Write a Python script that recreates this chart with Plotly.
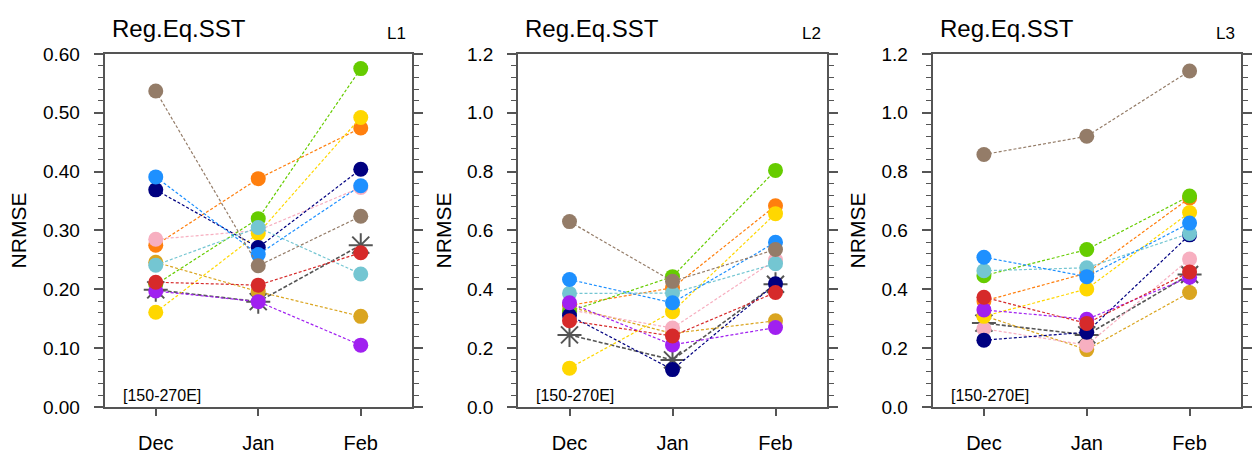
import plotly.graph_objects as go

months = ["Dec", "Jan", "Feb"]
panel_labels = ["L1", "L2", "L3"]
panel_title = "Reg.Eq.SST"
region_label = "[150-270E]"

series_names = ["MME", "goldenrod", "orange", "pink", "gold", "green", "navy",
                "turquoise", "dodger", "purple", "red", "brown"]
series_colors = {
    "MME": "#7f7f7f", "goldenrod": "#DAA520", "orange": "#FF7F0E", "pink": "#F7AFC0",
    "gold": "#FFD700", "green": "#66CC00", "navy": "#000080", "turquoise": "#74C6D2",
    "dodger": "#1E90FF", "purple": "#A020F0", "red": "#D62A2A", "brown": "#947C68",
}

L1 = {
    "brown": [0.537, 0.240, 0.324], "dodger": [0.391, 0.259, 0.376],
    "navy": [0.369, 0.271, 0.404], "pink": [0.285, 0.300, 0.373],
    "orange": [0.275, 0.388, 0.474], "goldenrod": [0.246, 0.196, 0.154],
    "turquoise": [0.241, 0.305, 0.226], "green": [0.208, 0.320, 0.575],
    "red": [0.212, 0.207, 0.262], "purple": [0.197, 0.179, 0.105],
    "gold": [0.161, 0.295, 0.492], "MME": [0.199, 0.179, 0.275],
}
L2 = {
    "brown": [0.630, 0.427, 0.535], "dodger": [0.433, 0.354, 0.560],
    "navy": [0.311, 0.127, 0.419], "pink": [0.330, 0.268, 0.500],
    "orange": [0.345, 0.405, 0.684], "goldenrod": [0.340, 0.250, 0.293],
    "turquoise": [0.386, 0.387, 0.487], "green": [0.325, 0.443, 0.804],
    "red": [0.293, 0.241, 0.389], "purple": [0.354, 0.211, 0.270],
    "gold": [0.132, 0.324, 0.657], "MME": [0.245, 0.160, 0.417],
}
L3 = {
    "brown": [0.858, 0.920, 1.142], "dodger": [0.509, 0.443, 0.625],
    "navy": [0.227, 0.254, 0.585], "pink": [0.266, 0.210, 0.503],
    "orange": [0.360, 0.455, 0.710], "goldenrod": [0.310, 0.195, 0.389],
    "turquoise": [0.463, 0.473, 0.590], "green": [0.446, 0.535, 0.717],
    "red": [0.373, 0.284, 0.459], "purple": [0.330, 0.298, 0.441],
    "gold": [0.308, 0.401, 0.661], "MME": [0.285, 0.245, 0.450],
}
panels = [L1, L2, L3]

y_ranges = [[0, 0.6], [0, 1.2], [0, 1.2]]
y_dticks = [0.1, 0.2, 0.2]
y_minor = [0.02, 0.04, 0.04]
y_formats = [".2f", ".1f", ".1f"]

W, H = 1260, 459
x_dom_px = [(104.5, 412), (518, 827), (932.5, 1241)]
y_top_px, y_bot_px = 46, 416
ytitle_x_px = [18, 443, 857]

FONT = "Liberation Sans, Arial, Helvetica, sans-serif"
AX = "#555555"

fig = go.Figure()
annotations = []
layout = {}
for i, data in enumerate(panels):
    k = "" if i == 0 else str(i + 1)
    xref, yref = "x" + k, "y" + k
    for name in series_names:
        c = series_colors[name]
        if name == "MME":
            fig.add_trace(go.Scatter(
                x=months, y=data[name], xaxis=xref, yaxis=yref, mode="lines+markers",
                line=dict(color="#555555", width=1.6, dash="4px,2px"),
                marker=dict(symbol="asterisk-open", size=20,
                            line=dict(color=c, width=2)),
                showlegend=False, cliponaxis=False))
        else:
            fig.add_trace(go.Scatter(
                x=months, y=data[name], xaxis=xref, yaxis=yref, mode="lines+markers",
                line=dict(color=c, width=1.2, dash="3px,2px"),
                marker=dict(symbol="circle", size=15, color=c, line=dict(width=0)),
                showlegend=False, cliponaxis=False))
    x0, x1 = x_dom_px[i]
    layout["xaxis" + k] = dict(
        domain=[x0 / W, x1 / W], anchor=yref, type="category",
        categoryorder="array", categoryarray=months, range=[-0.5, 2.5],
        showline=True, linecolor=AX, linewidth=1.5, mirror=True,
        ticks="outside", ticklen=7, tickwidth=1.5, tickcolor=AX,
        showgrid=False, zeroline=False,
        tickfont=dict(family=FONT, size=20, color="black"),
        ticklabelstandoff=10,
    )
    layout["yaxis" + k] = dict(
        domain=[1 - y_bot_px / H, 1 - y_top_px / H], anchor=xref,
        range=y_ranges[i], dtick=y_dticks[i], tick0=0, tickformat=y_formats[i],
        showline=True, linecolor=AX, linewidth=1.5, mirror="ticks",
        ticks="outside", ticklen=9, tickwidth=1.5, tickcolor=AX,
        minor=dict(dtick=y_minor[i], tick0=0, ticks="outside", ticklen=5,
                   tickwidth=1, tickcolor=AX, showgrid=False),
        showgrid=False, zeroline=False,
        tickfont=dict(family=FONT, size=19, color="black"),
        ticklabelstandoff=10,
    )
    annotations.append(dict(
        text=panel_title, xref="paper", yref="paper", x=(x0 + 5) / W, y=1 - 36 / H,
        xanchor="left", yanchor="bottom", showarrow=False,
        font=dict(family=FONT, size=24, color="black")))
    annotations.append(dict(
        text=panel_labels[i], xref="paper", yref="paper", x=(x1 - 4) / W, y=1 - 37 / H,
        xanchor="right", yanchor="bottom", showarrow=False,
        font=dict(family=FONT, size=17, color="black")))
    annotations.append(dict(
        text=region_label, xref="paper", yref="paper", x=(x0 + 16) / W, y=1 - 404 / H,
        xanchor="left", yanchor="middle", showarrow=False,
        font=dict(family=FONT, size=16, color="black")))
    annotations.append(dict(
        text="NRMSE", xref="paper", yref="paper", x=ytitle_x_px[i] / W,
        y=1 - 231 / H, xanchor="center", yanchor="middle", textangle=-90,
        showarrow=False, font=dict(family=FONT, size=21, color="black")))

fig.update_layout(**layout)
fig.update_layout(
    width=W, height=H, margin=dict(l=0, r=0, t=0, b=0),
    paper_bgcolor="white", plot_bgcolor="white", annotations=annotations,
)
fig.write_html("out.html")
